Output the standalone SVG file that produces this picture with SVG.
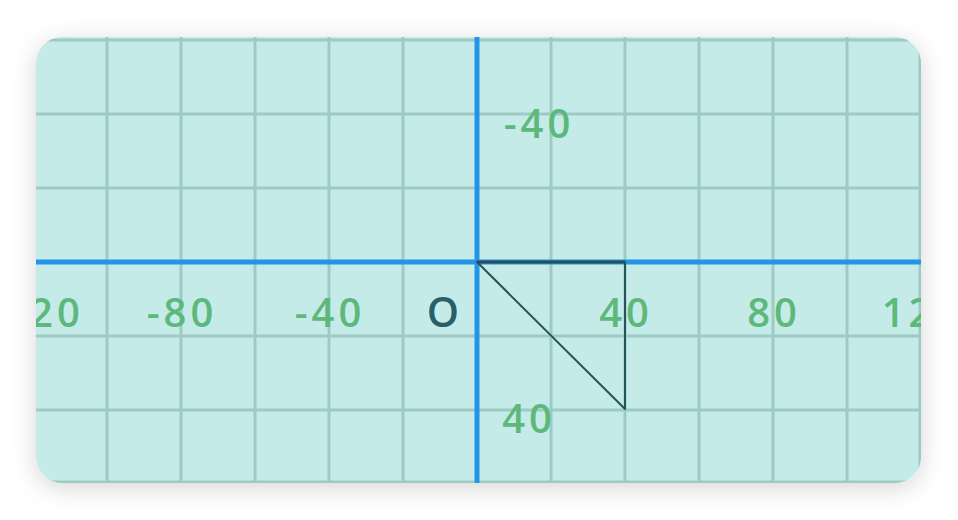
<svg xmlns="http://www.w3.org/2000/svg" width="958" height="520" viewBox="0 0 958 520">
  <defs>
    <filter id="shadow" x="-10%" y="-15%" width="120%" height="135%">
      <feDropShadow dx="0" dy="5" stdDeviation="12" flood-color="#000" flood-opacity="0.16"/>
    </filter>
    <clipPath id="cardClip">
      <rect x="36" y="37" width="885" height="446" rx="26" ry="26"/>
    </clipPath>
    <style>
      .grid { stroke: #9dcbc4; stroke-width: 3; fill: none; }
      .axis { stroke: #2195ea; stroke-width: 5; fill: none; }
      .lbl { font-family: "Open Sans", "Liberation Sans", Arial, sans-serif; font-weight: 600; font-size: 40px; fill: #5db87b; letter-spacing: 4px; }
      .origin { font-family: "Open Sans", "Liberation Sans", Arial, sans-serif; font-weight: 600; font-size: 41px; fill: #27606a; }
      .tri { stroke: #22565c; stroke-width: 2; fill: none; stroke-linejoin: round; }
    </style>
  </defs>
  <rect width="958" height="520" fill="#ffffff"/>
  <rect id="card" x="36" y="37" width="885" height="446" rx="26" ry="26" fill="#c5ebe8" filter="url(#shadow)"/>
  <g clip-path="url(#cardClip)">
    <g id="grid">
      <path class="grid" d="M107 30V490M181 30V490M255 30V490M329 30V490M403 30V490M551 30V490M625 30V490M699 30V490M773 30V490M847 30V490M920 30V490"/>
      <path class="grid" d="M30 40H930M30 114H930M30 188H930M30 336H930M30 410H930M30 482H930"/>
    </g>
    <g id="axes">
      <path class="axis" d="M30 262H930M477 30V490"/>
    </g>
    <g id="labels">
      <text class="lbl" x="35" y="327" text-anchor="middle">-120</text>
      <text class="lbl" x="182" y="327" text-anchor="middle">-80</text>
      <text class="lbl" x="330" y="327" text-anchor="middle">-40</text>
      <text class="lbl" x="626" y="327" text-anchor="middle">40</text>
      <text class="lbl" x="774" y="327" text-anchor="middle">80</text>
      <text class="lbl" x="922" y="327" text-anchor="middle">120</text>
      <text class="lbl" x="539" y="138" text-anchor="middle">-40</text>
      <text class="lbl" x="529" y="433" text-anchor="middle">40</text>
      <text class="origin" x="443" y="327" text-anchor="middle">O</text>
    </g>
    <g id="triangle">
      <path class="tri" d="M477 262L625 262L625 409Z"/>
      <path d="M477 262H625" stroke="#2a4f52" stroke-width="3"/>
    </g>
  </g>
</svg>
